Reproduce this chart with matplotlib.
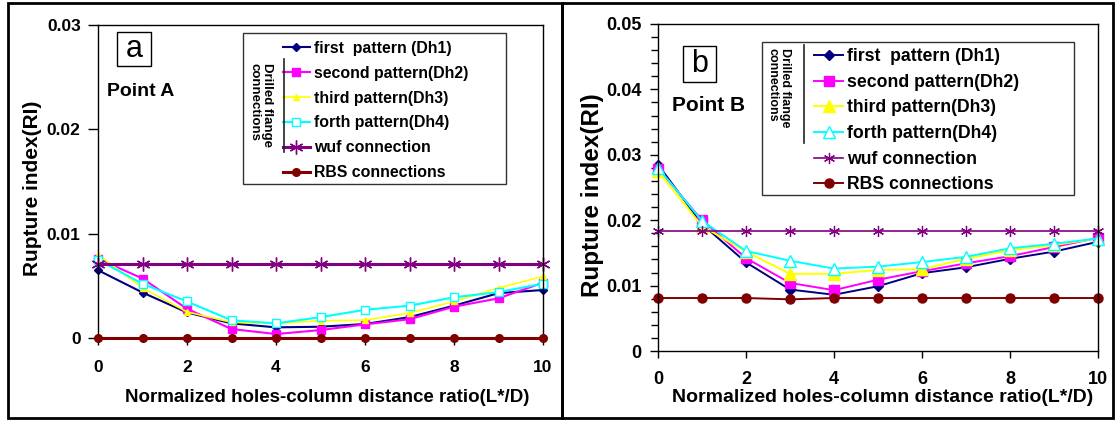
import matplotlib
matplotlib.use('Agg')
import matplotlib.pyplot as plt
from matplotlib.patches import Rectangle
from matplotlib.lines import Line2D

plt.rcParams['font.family'] = ['Liberation Sans', 'DejaVu Sans']

# ---------------- data ----------------
x_ratio = [0, 1, 2, 3, 4, 5, 6, 7, 8, 9, 10]
x_ticks = [0, 2, 4, 6, 8, 10]

series_labels = ['first  pattern (Dh1)', 'second pattern(Dh2)', 'third pattern(Dh3)',
                 'forth pattern(Dh4)', 'wuf connection', 'RBS connections']

# Panel a : Point A
a_dh1 = [0.0065, 0.00436, 0.00245, 0.0014, 0.00102, 0.00108, 0.00134, 0.0020, 0.0031, 0.0043, 0.0046]
a_dh2 = [0.0076, 0.0057, 0.0028, 0.00086, 0.00038, 0.00076, 0.0013, 0.0018, 0.0030, 0.0038, 0.0053]
a_dh3 = [0.0080, 0.0048, 0.0025, 0.0015, 0.0014, 0.00165, 0.0017, 0.0024, 0.0035, 0.0048, 0.0059]
a_dh4 = [0.0075, 0.0052, 0.0035, 0.0017, 0.0014, 0.0020, 0.0027, 0.0031, 0.0039, 0.0044, 0.0052]
a_wuf = [0.0071] * 11
a_rbs = [0.0] * 11
a_yticks = [0, 0.01, 0.02, 0.03]
a_yticklabels = ['0', '0.01', '0.02', '0.03']

# Panel b : Point B
b_dh1 = [0.0285, 0.0194, 0.01355, 0.0094, 0.0086, 0.0099, 0.0119, 0.0128, 0.0141, 0.0152, 0.0167]
b_dh2 = [0.0279, 0.0200, 0.0142, 0.0104, 0.0093, 0.0109, 0.0122, 0.0134, 0.0145, 0.0159, 0.0173]
b_dh3 = [0.0275, 0.0191, 0.0152, 0.0118, 0.0118, 0.0124, 0.0125, 0.0141, 0.0154, 0.0162, 0.0172]
b_dh4 = [0.0280, 0.0199, 0.0153, 0.0138, 0.0126, 0.0129, 0.0136, 0.0144, 0.0157, 0.0164, 0.0172]
b_wuf = [0.0184] * 11
b_rbs = [0.0081, 0.0081, 0.0081, 0.0079, 0.0081, 0.0081, 0.0081, 0.0081, 0.0081, 0.0081, 0.0081]
b_yticks = [0, 0.01, 0.02, 0.03, 0.04, 0.05]
b_yticklabels = ['0', '0.01', '0.02', '0.03', '0.04', '0.05']

C_DH1 = '#000080'
C_DH2 = '#ff00ff'
C_DH3 = '#ffff00'
C_DH4 = '#00ffff'
C_WUF = '#800080'
C_RBS = '#800000'

W, H = 1115, 421
fig = plt.figure(figsize=(W / 100, H / 100), dpi=100)

def fx(px):
    return px / W

def fy(py):
    return 1 - py / H

# axes rectangles in pixels: left, right, top, bottom
ax_a = fig.add_axes([fx(98), fy(338), (543 - 98) / W, (338 - 25) / H])
ax_b = fig.add_axes([fx(658), fy(351), (1098 - 658) / W, (351 - 24) / H])

# ---------------- panel a ----------------
la = []
la.append(ax_a.plot(x_ratio, a_dh1, color=C_DH1, lw=1.5, marker='D', ms=4.5, mfc=C_DH1, mec=C_DH1, clip_on=False)[0])
la.append(ax_a.plot(x_ratio, a_dh2, color=C_DH2, lw=1.5, marker='s', ms=5.5, mfc=C_DH2, mec=C_DH2, clip_on=False)[0])
la.append(ax_a.plot(x_ratio, a_dh3, color=C_DH3, lw=1.2, marker='^', ms=5, mfc=C_DH3, mec=C_DH3, clip_on=False)[0])
la.append(ax_a.plot(x_ratio, a_dh4, color=C_DH4, lw=1.5, marker='s', ms=5.5, mfc='white', mec=C_DH4, mew=1.0, clip_on=False)[0])
la.append(ax_a.plot(x_ratio, a_wuf, color=C_WUF, lw=2.2, marker=(6, 2, 0), ms=10, mec=C_WUF, mew=1.0, clip_on=False)[0])
la.append(ax_a.plot(x_ratio, a_rbs, color=C_RBS, lw=2.2, marker='o', ms=5.5, mfc=C_RBS, mec=C_RBS, clip_on=False, zorder=5)[0])

ax_a.set_xlim(0, 10)
ax_a.set_ylim(0, 0.03)
ax_a.set_xticks(x_ticks)
ax_a.set_xticklabels([str(v) for v in x_ticks])
ax_a.set_yticks(a_yticks)
ax_a.set_yticklabels(a_yticklabels)
ax_a.tick_params(axis='x', direction='out', length=5, width=1, pad=11, labelsize=12.5)
ax_a.tick_params(axis='y', direction='out', length=7, width=1, pad=5.5, labelsize=12.5)
for lab in ax_a.get_xticklabels() + ax_a.get_yticklabels():
    lab.set_fontweight('bold')
for sp in ax_a.spines.values():
    sp.set_linewidth(1.0)
    sp.set_color('black')

ax_a.set_ylabel('Rupture index(RI)', fontsize=15, fontweight='bold')
ax_a.yaxis.set_label_coords((32 - 98) / 445, 0.478)
ax_a.set_xlabel('Normalized holes-column distance ratio(L*/D)', fontsize=13.5, fontweight='bold')
ax_a.xaxis.set_label_coords(0.516, -(398 - 338) / 313)
ax_a.xaxis.label.set_va('center')
ax_a.yaxis.label.set_va('center')

# panel label box
ax_a.add_patch(Rectangle((0.0427, 0.869), 0.0763, 0.1086, transform=ax_a.transAxes,
                         fill=True, facecolor='white', edgecolor='black', lw=1.0, zorder=6))
ax_a.text(0.081, 0.922, 'a', transform=ax_a.transAxes, fontsize=22, ha='center', va='center', zorder=7)
ax_a.text(0.02, 0.789, 'Point A', transform=ax_a.transAxes, fontsize=14, fontweight='bold',
          ha='left', va='center')

# legend
ax_a.add_patch(Rectangle((0.3258, 0.492), 0.9169 - 0.3258, 0.9744 - 0.492, transform=ax_a.transAxes,
                         fill=True, facecolor='white', edgecolor='#333333', lw=1.0, zorder=6))
leg_a = ax_a.legend(la, series_labels, loc='upper left', bbox_to_anchor=(0.4157, 0.949),
                    frameon=False, borderpad=0, borderaxespad=0, handlelength=1.7,
                    handletextpad=0.25, labelspacing=0.62,
                    prop={'family': 'Liberation Sans', 'weight': 'bold', 'size': 11.4})
leg_a.set_zorder(8)
ax_a.add_line(Line2D([0.418, 0.418], [0.594, 0.891], transform=ax_a.transAxes,
                     color='#222222', lw=1.2, zorder=9))
ax_a.text(0.366, 0.879, 'Drilled flange\nconnections', transform=ax_a.transAxes, rotation=270,
          fontsize=9.5, fontweight='bold', ha='center', va='top', multialignment='left',
          linespacing=1.1, zorder=9)

# ---------------- panel b ----------------
lb = []
lb.append(ax_b.plot(x_ratio, b_dh1, color=C_DH1, lw=1.4, marker='D', ms=5, mfc=C_DH1, mec=C_DH1, clip_on=False)[0])
lb.append(ax_b.plot(x_ratio, b_dh2, color=C_DH2, lw=1.4, marker='s', ms=6.5, mfc=C_DH2, mec=C_DH2, clip_on=False)[0])
lb.append(ax_b.plot(x_ratio, b_dh3, color=C_DH3, lw=1.4, marker='^', ms=8, mfc=C_DH3, mec=C_DH3, clip_on=False)[0])
lb.append(ax_b.plot(x_ratio, b_dh4, color=C_DH4, lw=1.4, marker='^', ms=8, mfc='white', mec=C_DH4, mew=1.0, clip_on=False)[0])
lb.append(ax_b.plot(x_ratio, b_wuf, color=C_WUF, lw=1.2, marker=(6, 2, 0), ms=8, mec=C_WUF, mew=0.9, clip_on=False)[0])
lb.append(ax_b.plot(x_ratio, b_rbs, color=C_RBS, lw=1.4, marker='o', ms=6.5, mfc=C_RBS, mec=C_RBS, clip_on=False)[0])

ax_b.set_xlim(0, 10)
ax_b.set_ylim(0, 0.05)
ax_b.set_xticks(x_ticks)
ax_b.set_xticklabels([str(v) for v in x_ticks])
ax_b.set_yticks(b_yticks)
ax_b.set_yticklabels(b_yticklabels)
ax_b.set_yticks([v / 1000 for v in range(0, 51, 2)], minor=True)
ax_b.tick_params(axis='x', direction='out', length=5, width=1, pad=9.5, labelsize=13)
ax_b.tick_params(axis='y', which='major', direction='out', length=6, width=1, pad=6, labelsize=13)
ax_b.tick_params(axis='y', which='minor', direction='out', length=5, width=1)
for lab in ax_b.get_xticklabels() + ax_b.get_yticklabels():
    lab.set_fontweight('bold')
for sp in ax_b.spines.values():
    sp.set_linewidth(1.0)
    sp.set_color('black')

ax_b.set_ylabel('Rupture index(RI)', fontsize=17.5, fontweight='bold')
ax_b.yaxis.set_label_coords((592.5 - 658) / 440, 0.477)
ax_b.set_xlabel('Normalized holes-column distance ratio(L*/D)', fontsize=14, fontweight='bold')
ax_b.xaxis.set_label_coords(0.51, -(398 - 351) / 327)
ax_b.xaxis.label.set_va('center')
ax_b.yaxis.label.set_va('center')

ax_b.add_patch(Rectangle((0.0568, 0.8226), 0.075, 0.1101, transform=ax_b.transAxes,
                         fill=True, facecolor='white', edgecolor='black', lw=1.0, zorder=6))
ax_b.text(0.0943, 0.8776, 'b', transform=ax_b.transAxes, fontsize=22, ha='center', va='center', zorder=7)
ax_b.text(0.032, 0.752, 'Point B', transform=ax_b.transAxes, fontsize=15, fontweight='bold',
          ha='left', va='center')

ax_b.add_patch(Rectangle((0.2364, 0.477), 0.9455 - 0.2364, 0.945 - 0.477, transform=ax_b.transAxes,
                         fill=True, facecolor='white', edgecolor='#333333', lw=1.0, zorder=6))
leg_b = ax_b.legend(lb, series_labels, loc='upper left', bbox_to_anchor=(0.3545, 0.926),
                    frameon=False, borderpad=0, borderaxespad=0, handlelength=1.65,
                    handletextpad=0.25, labelspacing=0.49,
                    prop={'family': 'Liberation Sans', 'weight': 'bold', 'size': 12.7})
leg_b.set_zorder(8)
ax_b.add_line(Line2D([0.3318, 0.3318], [0.636, 0.936], transform=ax_b.transAxes,
                     color='#222222', lw=1.2, zorder=9))
ax_b.text(0.274, 0.927, 'Drilled flange\nconnections', transform=ax_b.transAxes, rotation=270,
          fontsize=9, fontweight='bold', ha='center', va='top', multialignment='left',
          linespacing=1.1, zorder=9)

# ---------------- outer frames ----------------
for (x0, x1) in [(8, 562), (562, 1113)]:
    fig.add_artist(Rectangle((fx(x0), fy(418)), (x1 - x0) / W, (418 - 3) / H,
                             transform=fig.transFigure, fill=False, edgecolor='black', lw=2.0))

fig.savefig('out.png', dpi=100)
